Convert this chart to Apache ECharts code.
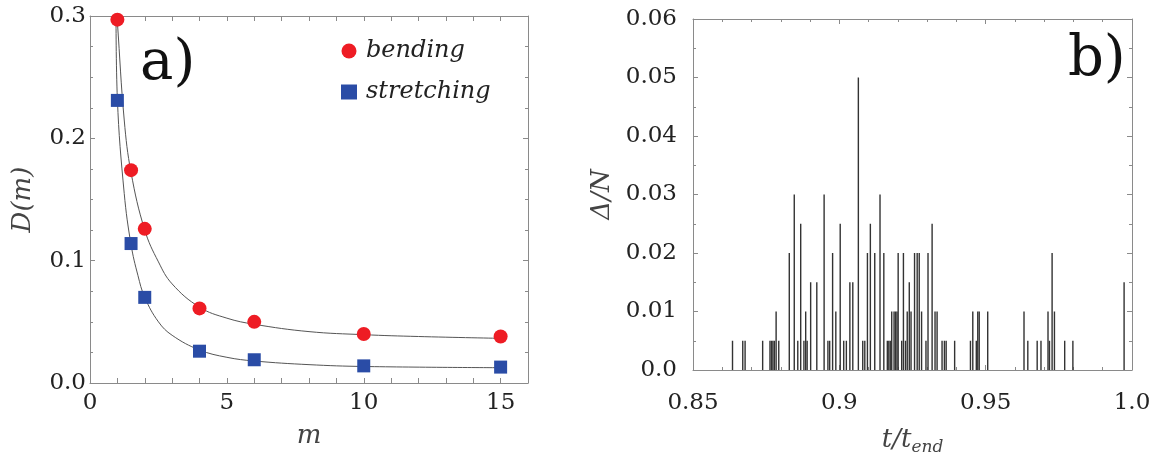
<!DOCTYPE html>
<html>
<head>
<meta charset="utf-8">
<title>D(m) and spike distribution</title>
<script src="https://cdn.jsdelivr.net/npm/echarts@6/dist/echarts.min.js"></script>
<style>
  html, body { margin: 0; padding: 0; background: #fff; }
  #chart { width: 1155px; height: 461px; }
</style>
</head>
<body>
<div id="chart"></div>
<script>
// panel a) measured points
var mValues = [1, 1.5, 2, 4, 6, 10, 15]
var bendingValues = [0.297, 0.174, 0.126, 0.061, 0.050, 0.040, 0.038]
var stretchingValues = [0.231, 0.114, 0.070, 0.026, 0.019, 0.014, 0.013]

// fitted curves
var bendFitM = [0.98, 1, 1.25, 1.5, 2, 2.5, 3, 4, 5, 6, 8, 10, 12, 15]
var bendFitD = [0.300, 0.295, 0.215, 0.172, 0.125, 0.099, 0.081, 0.062, 0.053, 0.048, 0.042, 0.0395, 0.038, 0.0365]
var stretchFitM = [0.95, 1, 1.25, 1.5, 1.75, 2, 2.5, 3, 4, 5, 6, 8, 10, 15]
var stretchFitD = [0.300, 0.232, 0.155, 0.113, 0.088, 0.070, 0.050, 0.039, 0.027, 0.021, 0.018, 0.015, 0.0135, 0.0125]

// panel b) spikes: position t/t_end and height Delta/N
var spikeT = [
  0.8635, 0.8670, 0.8678, 0.8738, 0.8763, 0.8768, 0.8773, 0.8778, 0.8784, 0.8793,
  0.8829, 0.8846, 0.8858, 0.8868, 0.8879, 0.8885, 0.8890, 0.8902, 0.8923, 0.8948,
  0.8961, 0.8967, 0.8977, 0.8988, 0.9003, 0.9015, 0.9024, 0.9036, 0.9046, 0.9065,
  0.9080, 0.9087, 0.9096, 0.9106, 0.9121, 0.9139, 0.9152, 0.9164, 0.9169, 0.9174,
  0.9179, 0.9187, 0.9192, 0.9197, 0.9201, 0.9213, 0.9219, 0.9226, 0.9232, 0.9239,
  0.9245, 0.9257, 0.9266, 0.9273, 0.9281, 0.9296, 0.9303, 0.9317, 0.9327, 0.9334,
  0.9351, 0.9359, 0.9365, 0.9394, 0.9448, 0.9456, 0.9468, 0.9473, 0.9478, 0.9507,
  0.9631, 0.9644, 0.9676, 0.9689, 0.9713, 0.9718, 0.9727, 0.9735, 0.9770, 0.9798,
  0.9973
]
var spikeH = [
  0.005, 0.005, 0.005, 0.005, 0.005, 0.005, 0.005, 0.005, 0.010, 0.005,
  0.020, 0.030, 0.005, 0.025, 0.005, 0.010, 0.005, 0.015, 0.015, 0.030,
  0.005, 0.005, 0.020, 0.010, 0.025, 0.005, 0.005, 0.015, 0.015, 0.050,
  0.005, 0.005, 0.020, 0.025, 0.020, 0.030, 0.020, 0.005, 0.005, 0.005,
  0.010, 0.010, 0.010, 0.010, 0.020, 0.005, 0.020, 0.005, 0.010, 0.015,
  0.010, 0.020, 0.020, 0.020, 0.010, 0.005, 0.020, 0.025, 0.010, 0.010,
  0.005, 0.005, 0.005, 0.005, 0.005, 0.010, 0.005, 0.010, 0.010, 0.010,
  0.010, 0.005, 0.005, 0.005, 0.010, 0.005, 0.020, 0.010, 0.005, 0.005,
  0.015
]

var FONT = 'DejaVu Serif'
var frameColor = '#8a8a8a'

function pairs(xs, ys) {
  var out = []
  for (var i = 0; i < xs.length; i++) out.push([xs[i], ys[i]])
  return out
}

var tickLabel = { color: '#222', fontFamily: FONT, fontSize: 23 }
var nameStyle = { color: '#444', fontFamily: FONT, fontSize: 26, fontStyle: 'italic' }

// framed axis helper: ticks inward, optional labels
function frameAxis(opts) {
  var base = {
    type: 'value',
    min: opts.min,
    max: opts.max,
    interval: opts.interval,
    position: opts.position,
    gridIndex: opts.grid,
    axisLine: { show: true, onZero: false, lineStyle: { color: frameColor, width: 1 } },
    axisTick: { show: true, inside: true, length: 5, lineStyle: { color: frameColor } },
    minorTick: opts.minor ? { show: true, splitNumber: opts.minor, length: 3, lineStyle: { color: frameColor } } : { show: false },
    splitLine: { show: false },
    axisLabel: { show: false }
  }
  if (opts.labels) {
    base.axisLabel = {
      show: true,
      margin: opts.margin,
      formatter: opts.formatter,
      color: tickLabel.color,
      fontFamily: tickLabel.fontFamily,
      fontSize: tickLabel.fontSize
    }
  }
  if (opts.name) {
    base.name = opts.name
    base.nameLocation = 'middle'
    base.nameGap = opts.nameGap
    base.nameTextStyle = opts.nameTextStyle || nameStyle
  }
  return base
}

var chart = echarts.init(document.getElementById('chart'))

chart.setOption({
  animation: false,
  backgroundColor: '#fff',
  grid: [
    { left: 90, right: 627, top: 16, bottom: 78 },
    { left: 693, right: 23, top: 19, bottom: 78 }
  ],
  xAxis: [
    frameAxis({ grid: 0, min: 0, max: 16, interval: 1, position: 'bottom', labels: true, margin: 9,
      formatter: function(v) { return v % 5 === 0 ? String(v) : '' },
      name: 'm', nameGap: 40 }),
    frameAxis({ grid: 0, min: 0, max: 16, interval: 1, position: 'top' }),
    frameAxis({ grid: 1, min: 0.85, max: 1.0, interval: 0.05, minor: 5, position: 'bottom', labels: true, margin: 22,
      formatter: function(v) {
        if (Math.abs(v - 1) < 1e-9) return '1.0'
        return String(Math.round(v * 100) / 100)
      },
      name: '{i|t/t}{s|end}', nameGap: 55,
      nameTextStyle: {
        color: '#444', fontFamily: FONT, fontSize: 26, fontStyle: 'italic',
        rich: {
          i: { color: '#444', fontFamily: FONT, fontSize: 26, fontStyle: 'italic' },
          s: { color: '#444', fontFamily: FONT, fontSize: 17, fontStyle: 'italic', padding: [14, 0, 0, 0] }
        }
      } }),
    frameAxis({ grid: 1, min: 0.85, max: 1.0, interval: 0.05, minor: 5, position: 'top' })
  ],
  yAxis: [
    frameAxis({ grid: 0, min: 0, max: 0.3, interval: 0.1, minor: 4, position: 'left', labels: true, margin: 4,
      formatter: function(v) { return v.toFixed(1) },
      name: 'D(m)', nameGap: 54 }),
    frameAxis({ grid: 0, min: 0, max: 0.3, interval: 0.1, minor: 4, position: 'right' }),
    frameAxis({ grid: 1, min: 0, max: 0.06, interval: 0.01, minor: 2, position: 'left', labels: true, margin: 16,
      formatter: function(v) { return v === 0 ? '0.0' : v.toFixed(2) },
      name: 'Δ/N', nameGap: 78 }),
    frameAxis({ grid: 1, min: 0, max: 0.06, interval: 0.01, minor: 2, position: 'right' })
  ],
  legend: {
    data: ['bending', 'stretching'],
    orient: 'vertical',
    left: 336,
    top: 34,
    itemWidth: 16,
    itemHeight: 15,
    itemGap: 17,
    textStyle: { color: '#222', fontFamily: FONT, fontSize: 24, fontStyle: 'italic', padding: [0, 0, 0, 4] }
  },
  graphic: [
    { type: 'text', left: 140, top: 36, style: { text: 'a)', font: '56px "DejaVu Serif"', fill: '#111' } },
    { type: 'text', left: 1068, top: 32, style: { text: 'b)', font: '56px "DejaVu Serif"', fill: '#111' } }
  ],
  series: [
    {
      name: 'bending fit',
      type: 'line',
      xAxisIndex: 0, yAxisIndex: 0,
      data: pairs(bendFitM, bendFitD),
      smooth: 0.4,
      showSymbol: false,
      lineStyle: { color: '#555', width: 1 },
      silent: true,
      z: 2
    },
    {
      name: 'stretching fit',
      type: 'line',
      xAxisIndex: 0, yAxisIndex: 0,
      data: pairs(stretchFitM, stretchFitD),
      smooth: 0.4,
      showSymbol: false,
      lineStyle: { color: '#555', width: 1 },
      silent: true,
      z: 2
    },
    {
      name: 'bending',
      type: 'scatter',
      xAxisIndex: 0, yAxisIndex: 0,
      data: pairs(mValues, bendingValues),
      symbol: 'circle',
      symbolSize: 14,
      itemStyle: { color: '#ee1c24', opacity: 1 },
      z: 3
    },
    {
      name: 'stretching',
      type: 'scatter',
      xAxisIndex: 0, yAxisIndex: 0,
      data: pairs(mValues, stretchingValues),
      symbol: 'rect',
      symbolSize: 13,
      itemStyle: { color: '#2a4ca6', opacity: 1 },
      z: 3
    },
    {
      name: 'spikes',
      type: 'bar',
      xAxisIndex: 2, yAxisIndex: 2,
      data: pairs(spikeT, spikeH),
      barWidth: 1.4,
      itemStyle: { color: '#333' },
      z: 2
    }
  ]
})
</script>
</body>
</html>
